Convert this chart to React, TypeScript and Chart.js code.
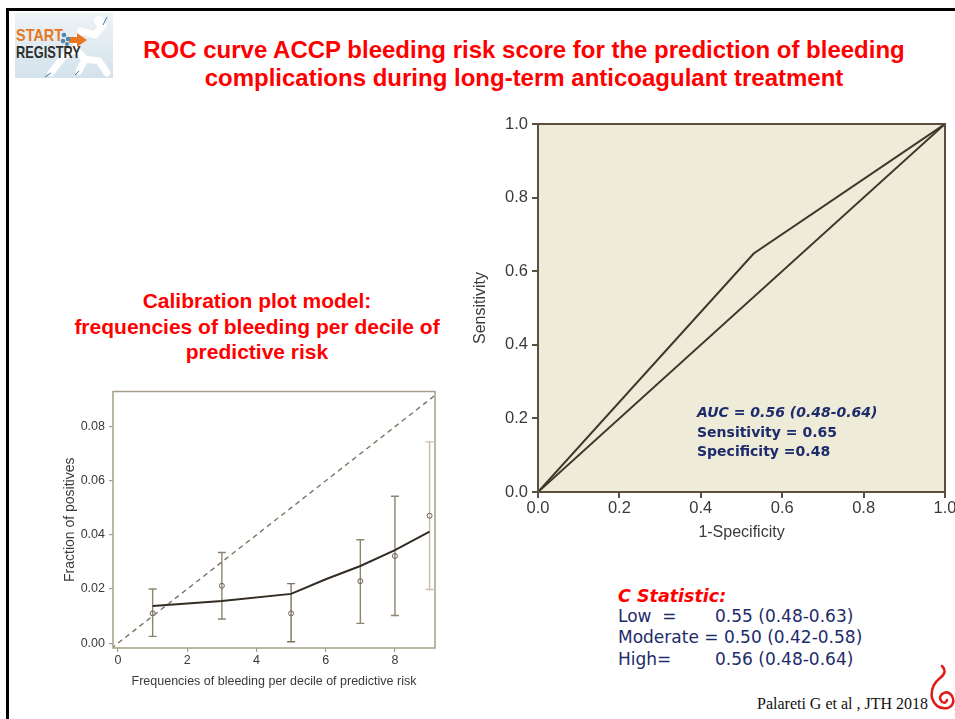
import React, { useEffect, useRef } from "react";
import { Chart } from "chart.js/auto";

// ---------- ROC data ----------
const rocFpr = [0, 0.53, 1];
const rocTpr = [0, 0.648, 1];
const chanceFpr = [0, 1];
const chanceTpr = [0, 1];
const rocTicks = [0, 0.2, 0.4, 0.6, 0.8, 1.0];

// ---------- Calibration data ----------
const calDeciles = [1, 3, 5, 7, 8, 9];
const calObserved = [0.011, 0.0212, 0.011, 0.0229, 0.0322, 0.0471];
const calLower = [0.0025, 0.0089, 0.0005, 0.0073, 0.0102, 0.0198];
const calUpper = [0.02, 0.0335, 0.022, 0.0382, 0.0543, 0.0744];
const calSmoothX = [1, 3, 5, 6, 7, 8, 9];
const calSmoothY = [0.0137, 0.0156, 0.0182, 0.0236, 0.0285, 0.0344, 0.0412];
const calIdealX = [-0.2, 9.4];
const calIdealY = [-0.002, 0.094];
const calXTicks = [0, 2, 4, 6, 8];
const calYTicks = [0, 0.02, 0.04, 0.06, 0.08];

const SANS = "'Liberation Sans', Arial, sans-serif";

const toPts = (xs: number[], ys: number[]) => xs.map((x, i) => ({ x, y: ys[i] }));

function framePlugin(bg: string | null, color: string, width: number) {
  return {
    id: "frame",
    beforeDatasetsDraw(chart: any) {
      if (!bg) return;
      const { ctx, chartArea } = chart;
      ctx.save();
      ctx.fillStyle = bg;
      ctx.fillRect(chartArea.left, chartArea.top, chartArea.right - chartArea.left, chartArea.bottom - chartArea.top);
      ctx.restore();
    },
    afterDatasetsDraw(chart: any) {
      const { ctx, chartArea } = chart;
      ctx.save();
      ctx.strokeStyle = color;
      ctx.lineWidth = width;
      ctx.strokeRect(chartArea.left, chartArea.top, chartArea.right - chartArea.left, chartArea.bottom - chartArea.top);
      ctx.restore();
    },
  };
}

const errorBarColors = ["#8d856f", "#8d856f", "#7d7560", "#8d856f", "#8d856f", "#c9bfa6"];

const errorBarPlugin = {
  id: "errorBars",
  beforeDatasetsDraw(chart: any) {
    const { ctx, scales } = chart;
    ctx.save();
    ctx.lineWidth = 1.4;
    calDeciles.forEach((d, i) => {
      const x = scales.x.getPixelForValue(d);
      const y1 = scales.y.getPixelForValue(calLower[i]);
      const y2 = scales.y.getPixelForValue(calUpper[i]);
      ctx.strokeStyle = errorBarColors[i];
      ctx.beginPath();
      ctx.moveTo(x, y1);
      ctx.lineTo(x, y2);
      ctx.moveTo(x - 4, y1);
      ctx.lineTo(x + 4, y1);
      ctx.moveTo(x - 4, y2);
      ctx.lineTo(x + 4, y2);
      ctx.stroke();
    });
    ctx.restore();
  },
};

function RocChart() {
  const ref = useRef<HTMLCanvasElement>(null);
  useEffect(() => {
    const frame = "#5b5040";
    const chart = new Chart(ref.current!, {
      type: "scatter",
      data: {
        datasets: [
          {
            data: toPts(rocFpr, rocTpr),
            showLine: true,
            borderColor: "#3f362b",
            borderWidth: 2,
            pointRadius: 0,
          },
          {
            data: toPts(chanceFpr, chanceTpr),
            showLine: true,
            borderColor: "#3f362b",
            borderWidth: 2,
            pointRadius: 0,
          },
        ],
      },
      options: {
        animation: false,
        responsive: false,
        devicePixelRatio: 1,
        layout: { padding: { top: 24, right: 25, left: 0, bottom: 0 } },
        plugins: { legend: { display: false }, tooltip: { enabled: false } },
        scales: {
          x: {
            type: "linear",
            min: 0,
            max: 1,
            afterBuildTicks: (s: any) => {
              s.ticks = rocTicks.map((v) => ({ value: v }));
            },
            afterFit: (s: any) => {
              s.height = 58;
            },
            grid: { display: true, drawOnChartArea: false, drawTicks: true, tickLength: 6, color: frame, lineWidth: 2 },
            border: { display: false },
            ticks: {
              padding: 1,
              color: "#3a3a3a",
              font: { size: 16.5, family: SANS },
              maxRotation: 0,
              autoSkip: false,
              callback: (v: any) => Number(v).toFixed(1),
            },
            title: {
              display: true,
              text: "1-Specificity",
              color: "#3a3a3a",
              font: { size: 16, family: SANS },
              padding: { top: 0, bottom: 7.4 },
            },
          },
          y: {
            type: "linear",
            min: 0,
            max: 1,
            afterBuildTicks: (s: any) => {
              s.ticks = rocTicks.map((v) => ({ value: v }));
            },
            afterFit: (s: any) => {
              s.width = 68;
            },
            grid: { display: true, drawOnChartArea: false, drawTicks: true, tickLength: 6, color: frame, lineWidth: 2 },
            border: { display: false },
            ticks: {
              padding: 4,
              color: "#3a3a3a",
              font: { size: 16.5, family: SANS },
              autoSkip: false,
              callback: (v: any) => Number(v).toFixed(1),
            },
            title: {
              display: true,
              text: "Sensitivity",
              color: "#3a3a3a",
              font: { size: 16, family: SANS },
              padding: { top: 1.4, bottom: 0 },
            },
          },
        },
      },
      plugins: [framePlugin("#eeebd9", frame, 2)],
    } as any);
    return () => chart.destroy();
  }, []);
  return (
    <canvas
      ref={ref}
      width={500}
      height={450}
      style={{ position: "absolute", left: 470, top: 100, width: 500, height: 450 }}
    />
  );
}

function CalibrationChart() {
  const ref = useRef<HTMLCanvasElement>(null);
  useEffect(() => {
    const frame = "#a69e88";
    const chart = new Chart(ref.current!, {
      type: "scatter",
      data: {
        datasets: [
          {
            data: toPts(calIdealX, calIdealY),
            showLine: true,
            borderColor: "#7d7462",
            borderWidth: 1.4,
            borderDash: [5, 4],
            pointRadius: 0,
          },
          {
            data: toPts(calSmoothX, calSmoothY),
            showLine: true,
            borderColor: "#332c22",
            borderWidth: 2,
            pointRadius: 0,
          },
          {
            data: toPts(calDeciles, calObserved),
            showLine: false,
            pointRadius: 2.5,
            pointBorderWidth: 1,
            pointBackgroundColor: "rgba(0,0,0,0)",
            pointBorderColor: "#6b6350",
          },
        ],
      },
      options: {
        animation: false,
        responsive: false,
        devicePixelRatio: 1,
        layout: { padding: { top: 5, right: 15, left: 0, bottom: 0 } },
        plugins: { legend: { display: false }, tooltip: { enabled: false } },
        scales: {
          x: {
            type: "linear",
            min: -0.145,
            max: 9.157,
            afterBuildTicks: (s: any) => {
              s.ticks = calXTicks.map((v) => ({ value: v }));
            },
            afterFit: (s: any) => {
              s.height = 52;
            },
            grid: { display: true, drawOnChartArea: false, drawTicks: true, tickLength: 4, color: frame, lineWidth: 1.2 },
            border: { display: false },
            ticks: {
              padding: 1,
              color: "#3a3a3a",
              font: { size: 12.5, family: SANS },
              maxRotation: 0,
              autoSkip: false,
              callback: (v: any) => String(v),
            },
            title: {
              display: true,
              text: "Frequencies of bleeding per decile of predictive risk",
              color: "#3a3a3a",
              font: { size: 12.5, family: SANS },
              padding: { top: 0, bottom: 10.8 },
            },
          },
          y: {
            type: "linear",
            min: -0.0018,
            max: 0.093,
            afterBuildTicks: (s: any) => {
              s.ticks = calYTicks.map((v) => ({ value: v }));
            },
            afterFit: (s: any) => {
              s.width = 63;
            },
            grid: { display: true, drawOnChartArea: false, drawTicks: true, tickLength: 4, color: frame, lineWidth: 1.2 },
            border: { display: false },
            ticks: {
              padding: 4,
              color: "#3a3a3a",
              font: { size: 12.5, family: SANS },
              autoSkip: false,
              callback: (v: any) => Number(v).toFixed(2),
            },
            title: {
              display: true,
              text: "Fraction of positives",
              color: "#3a3a3a",
              font: { size: 14, family: SANS },
              padding: { top: 11.6, bottom: 0 },
            },
          },
        },
      },
      plugins: [framePlugin(null, frame, 1.5), errorBarPlugin],
    } as any);
    return () => chart.destroy();
  }, []);
  return (
    <canvas
      ref={ref}
      width={400}
      height={320}
      style={{ position: "absolute", left: 50, top: 380, width: 400, height: 320 }}
    />
  );
}

const abs = (s: React.CSSProperties): React.CSSProperties => ({ position: "absolute", whiteSpace: "nowrap", ...s });

export default function App() {
  const navy = "#1d2b6b";
  const comic = "'DejaVu Sans', sans-serif";
  const narrow = "'Liberation Sans Narrow', 'Liberation Sans', sans-serif";
  return (
    <div
      style={{
        position: "fixed",
        left: 0,
        top: 0,
        width: 955,
        height: 719,
        overflow: "hidden",
        background: "#fff",
        fontFamily: SANS,
      }}
    >
      {/* slide border */}
      <div style={abs({ left: 6, top: 8, width: 949, height: 3, background: "#000" })} />
      <div style={abs({ left: 6, top: 8, width: 3, height: 711, background: "#000" })} />

      {/* logo */}
      <div
        style={abs({
          left: 15,
          top: 13,
          width: 98,
          height: 65,
          background: "linear-gradient(180deg, #eef3f6 0%, #d3e2eb 100%)",
          overflow: "hidden",
        })}
      >
        <svg width={98} height={65} style={{ position: "absolute", left: 0, top: 0 }}>
          {/* runner silhouette */}
          <g stroke="#ffffff" strokeWidth={7} fill="none" strokeLinecap="round" strokeLinejoin="round">
            <path d="M66 18 L80 22 L88 12" />
            <path d="M66 18 L60 36 L70 46 L64 58" />
            <path d="M60 36 L48 44 L36 60" />
            <path d="M70 46 L84 48 L92 60" />
          </g>
          <circle cx={84} cy={8} r={5} fill="#fff" />
          <g stroke="#3f78a3" strokeWidth={1} fill="none">
            <path d="M88 12 L92 4" />
            <path d="M64 58 L60 62" />
            <path d="M36 60 L30 64" />
          </g>
          <polygon points="62,20 72,27 62,34" fill="#e87722" />
          <rect x={54} y={24} width={8} height={6} fill="#e87722" />
          <circle cx={49} cy={22} r={2.3} fill="#4f86ad" />
          <circle cx={53} cy={26} r={2.3} fill="#4f86ad" />
          <circle cx={48} cy={28} r={2.3} fill="#4f86ad" />
          <circle cx={52} cy={31} r={2} fill="#4f86ad" />
        </svg>
        <div
          style={abs({
            left: 1,
            top: 14,
            fontSize: 17,
            fontWeight: 700,
            color: "#e87722",
            fontFamily: narrow,
            transform: "scaleX(0.85)",
            transformOrigin: "left top",
            lineHeight: "18px",
          })}
        >
          START
        </div>
        <div
          style={abs({
            left: 1,
            top: 31,
            fontSize: 17,
            fontWeight: 700,
            color: "#2e2e2e",
            fontFamily: narrow,
            transform: "scaleX(0.75)",
            transformOrigin: "left top",
            lineHeight: "18px",
          })}
        >
          REGISTRY
        </div>
      </div>

      {/* title */}
      <div
        style={abs({
          left: 524,
          top: 36,
          transform: "translateX(-50%)",
          textAlign: "center",
          color: "#ff0000",
          fontWeight: 700,
          fontSize: 24,
          lineHeight: "28px",
        })}
      >
        ROC curve ACCP bleeding risk score for the prediction of bleeding
        <br />
        complications during long-term anticoagulant treatment
      </div>

      {/* calibration subtitle */}
      <div
        style={abs({
          left: 257,
          top: 288,
          transform: "translateX(-50%)",
          textAlign: "center",
          color: "#ff0000",
          fontWeight: 700,
          fontSize: 21,
          lineHeight: "25.5px",
        })}
      >
        Calibration plot model:
        <br />
        frequencies of bleeding per decile of
        <br />
        predictive risk
      </div>

      <CalibrationChart />
      <RocChart />

      {/* AUC annotation */}
      <div style={abs({ left: 697, top: 403, color: navy, fontFamily: comic, fontWeight: 700, fontSize: 14, lineHeight: "19.5px" })}>
        <div style={{ fontStyle: "italic" }}>AUC = 0.56 (0.48-0.64)</div>
        <div>Sensitivity = 0.65</div>
        <div>Specificity =0.48</div>
      </div>

      {/* C statistic */}
      <div style={abs({ left: 618, top: 586, color: "#ff0000", fontFamily: comic, fontWeight: 700, fontStyle: "italic", fontSize: 17.5, lineHeight: "21px" })}>
        C Statistic:
      </div>
      <div style={abs({ left: 618, top: 606, color: navy, fontFamily: comic, fontSize: 17, lineHeight: "21px" })}>Low&nbsp; =</div>
      <div style={abs({ left: 715, top: 606, color: navy, fontFamily: comic, fontSize: 17, lineHeight: "21px" })}>0.55 (0.48-0.63)</div>
      <div style={abs({ left: 618, top: 627, color: navy, fontFamily: comic, fontSize: 17, lineHeight: "21px" })}>Moderate = 0.50 (0.42-0.58)</div>
      <div style={abs({ left: 618, top: 649, color: navy, fontFamily: comic, fontSize: 17, lineHeight: "21px" })}>High=</div>
      <div style={abs({ left: 715, top: 649, color: navy, fontFamily: comic, fontSize: 17, lineHeight: "21px" })}>0.56 (0.48-0.64)</div>

      {/* citation */}
      <div style={abs({ left: 757, top: 694, fontFamily: "'Liberation Serif', serif", fontSize: 16, lineHeight: "20px", color: "#111" })}>
        Palareti G et al , JTH 2018
      </div>

      {/* spiral logo */}
      <svg width={30} height={56} style={{ position: "absolute", left: 928, top: 664 }}>
        <path
          d="M14 2 Q20 8 12 14 Q2 22 4 34 Q8 46 20 44 Q28 40 24 32 Q20 26 14 30 Q10 34 14 38 Q18 40 19 36"
          stroke="#e01b1b"
          strokeWidth={2.5}
          fill="none"
          strokeLinecap="round"
        />
      </svg>
    </div>
  );
}
